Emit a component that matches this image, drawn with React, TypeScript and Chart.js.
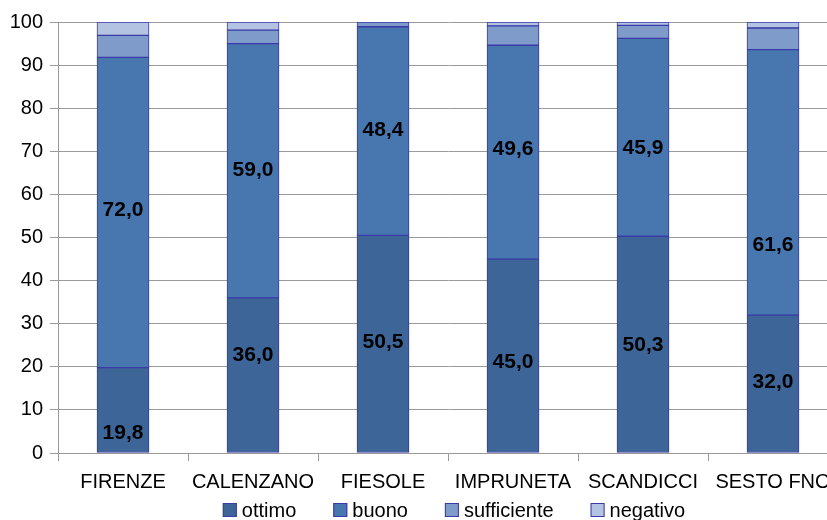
import { useEffect, useRef } from "react";
import { Chart, registerables } from "chart.js";

Chart.register(...registerables);

const categories = ["FIRENZE", "CALENZANO", "FIESOLE", "IMPRUNETA", "SCANDICCI", "SESTO FNO"];
const ottimo = [19.8, 36.0, 50.5, 45.0, 50.3, 32.0];
const buono = [72.0, 59.0, 48.4, 49.6, 45.9, 61.6];
const sufficiente = [5.1, 3.1, 1.1, 4.5, 3.0, 5.0];
const negativo = [3.1, 1.9, 0.0, 0.9, 0.8, 1.4];
const seriesNames = ["ottimo", "buono", "sufficiente", "negativo"];
// where (in value units) each data label sits, as in the original
const ottimoLabelAt = [4.6, 22.7, 25.8, 21.1, 25.1, 16.5];
const buonoLabelAt = [56.4, 65.7, 74.9, 70.5, 70.8, 48.3];

const FONT = "'Liberation Sans', Arial, sans-serif";
const colors = ["#3E6597", "#4877B0", "#7E9BC9", "#B4C3E1"];
const borderCol = "#3A3AA8";
const gridCol = "#9A9A9A";

const fmt = (v: number) => v.toFixed(1).replace(".", ",");

const labelPlugin = {
  id: "segLabels",
  afterDatasetsDraw(chart: any) {
    const ctx = chart.ctx;
    const y = chart.scales.y;
    const sets = [
      { idx: 0, vals: ottimo, at: ottimoLabelAt },
      { idx: 1, vals: buono, at: buonoLabelAt },
    ];
    ctx.save();
    ctx.font = `bold 21px ${FONT}`;
    ctx.fillStyle = "#000";
    ctx.textAlign = "center";
    ctx.textBaseline = "middle";
    sets.forEach((s) => {
      const meta = chart.getDatasetMeta(s.idx);
      meta.data.forEach((el: any, i: number) => {
        ctx.fillText(fmt(s.vals[i]), el.x, y.getPixelForValue(s.at[i]));
      });
    });
    ctx.restore();
  },
};

// Legend drawn below the category labels, centred under the plot
const legendPlugin = {
  id: "bottomLegend",
  afterDraw(chart: any) {
    const ctx = chart.ctx;
    const box = 14;
    const gapText = 5;
    const gapItem = 37;
    const yMid = 510;
    ctx.save();
    ctx.font = `20px ${FONT}`;
    ctx.textBaseline = "middle";
    ctx.textAlign = "left";
    const items = chart.data.datasets.map((d: any) => ({
      text: d.label,
      fill: d.backgroundColor,
      stroke: d.borderColor,
      w: ctx.measureText(d.label).width,
    }));
    const total =
      items.reduce((a: number, it: any) => a + box + gapText + it.w, 0) + gapItem * (items.length - 1);
    const ca = chart.chartArea;
    let x = (ca.left + ca.right) / 2 + 6 - total / 2;
    items.forEach((it: any) => {
      ctx.fillStyle = it.fill;
      ctx.fillRect(x, yMid - box / 2, box, box);
      ctx.strokeStyle = it.stroke;
      ctx.lineWidth = 1;
      ctx.strokeRect(x + 0.5, yMid - box / 2 + 0.5, box - 1, box - 1);
      ctx.fillStyle = "#000";
      ctx.fillText(it.text, x + box + gapText, yMid + 1);
      x += box + gapText + it.w + gapItem;
    });
    ctx.restore();
  },
};

export default function App() {
  const ref = useRef<HTMLCanvasElement | null>(null);
  useEffect(() => {
    if (!ref.current) return;
    const data = [ottimo, buono, sufficiente, negativo];
    const chart = new Chart(ref.current, {
      type: "bar",
      data: {
        labels: categories,
        datasets: data.map((d, i) => ({
          label: seriesNames[i],
          data: d,
          backgroundColor: colors[i],
          borderColor: borderCol,
          borderWidth: 1,
          borderSkipped: false,
          barThickness: 52,
        })),
      },
      options: {
        animation: false,
        responsive: false,
        devicePixelRatio: 1,
        layout: { padding: { top: 22, right: 2, left: 0, bottom: 0 } },
        plugins: {
          tooltip: { enabled: false },
          legend: { display: false },
        },
        scales: {
          x: {
            stacked: true,
            grid: {
              offset: true,
              drawOnChartArea: false,
              drawTicks: true,
              tickLength: 8,
              color: gridCol,
            },
            border: { display: true, color: gridCol },
            ticks: {
              font: { family: FONT, size: 20 },
              color: "#000",
              maxRotation: 0,
              minRotation: 0,
              autoSkip: false,
              padding: 9,
            },
            afterFit: (s: any) => {
              s.height = 67;
            },
          },
          y: {
            stacked: true,
            min: 0,
            max: 100,
            grid: { color: gridCol, tickLength: 8, drawTicks: true },
            border: { display: true, color: gridCol },
            ticks: {
              stepSize: 10,
              font: { family: FONT, size: 20 },
              color: "#000",
              padding: 7,
            },
            afterFit: (s: any) => {
              s.width = 58;
            },
          },
        },
      },
      plugins: [labelPlugin, legendPlugin],
    });
    return () => chart.destroy();
  }, []);
  return (
    <div
      style={{
        position: "fixed",
        left: 0,
        top: 0,
        width: 827,
        height: 520,
        overflow: "hidden",
        background: "#fff",
      }}
    >
      <canvas ref={ref} width={840} height={520} style={{ width: 840, height: 520, display: "block" }} />
    </div>
  );
}
